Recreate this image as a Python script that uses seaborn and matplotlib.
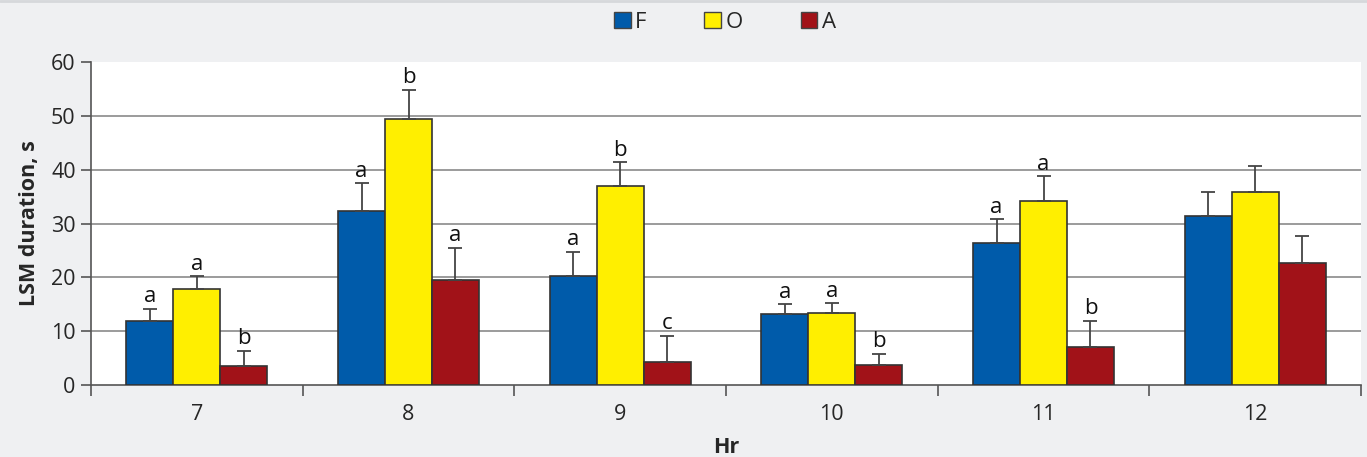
import matplotlib
matplotlib.use("Agg")
import matplotlib.pyplot as plt
import seaborn as sns
import pandas as pd
import numpy as np

# Hours and treatment groups
hours = ["7", "8", "9", "10", "11", "12"]
groups = ["F", "O", "A"]

# Mean LSM duration (s) per group
f_mean = [11.9, 32.3, 20.2, 13.2, 26.4, 31.4]
o_mean = [17.8, 49.4, 37.0, 13.4, 34.2, 35.9]
a_mean = [3.5, 19.5, 4.3, 3.7, 7.1, 22.7]

# Upper error (SE) per group
f_err = [2.2, 5.2, 4.5, 1.8, 4.4, 4.5]
o_err = [2.4, 5.4, 4.4, 1.8, 4.6, 4.8]
a_err = [2.8, 6.0, 4.8, 2.1, 4.8, 5.0]

# Significance letters
f_sig = ["a", "a", "a", "a", "a", ""]
o_sig = ["a", "b", "b", "a", "a", ""]
a_sig = ["b", "a", "c", "b", "b", ""]

means = {"F": f_mean, "O": o_mean, "A": a_mean}
errs = {"F": f_err, "O": o_err, "A": a_err}
sigs = {"F": f_sig, "O": o_sig, "A": a_sig}

df = pd.DataFrame(
    [(h, g, means[g][i]) for g in groups for i, h in enumerate(hours)],
    columns=["Hr", "group", "value"],
)

palette = {"F": "#005BAA", "O": "#FFEF00", "A": "#A11218"}
bg = "#EFF0F2"

sns.set_style("white")
plt.rcParams["font.family"] = ["Open Sans", "DejaVu Sans"]

fig = plt.figure(figsize=(13.67, 4.57), dpi=100, facecolor=bg)
ax = fig.add_axes([91 / 1367, 1 - 385 / 457, (1361 - 91) / 1367, (385 - 62) / 457])
ax.set_facecolor("white")

sns.barplot(
    data=df, x="Hr", y="value", hue="group", order=hours, hue_order=groups,
    palette=palette, width=0.666, gap=0, errorbar=None,
    edgecolor="#333333", linewidth=1.2, saturation=1, ax=ax, zorder=3,
)

# Upper error bars and letters on top of each bar
for g, cont in zip(groups, ax.containers):
    for i, bar in enumerate(cont.patches):
        x = bar.get_x() + bar.get_width() / 2
        top = means[g][i] + errs[g][i]
        ax.errorbar(x, means[g][i], yerr=[[0], [errs[g][i]]], fmt="none",
                    ecolor="#444444", elinewidth=1.3, capsize=5, capthick=1.3,
                    zorder=4)
        if sigs[g][i]:
            ax.text(x, top + 0.3, sigs[g][i], ha="center", va="bottom",
                    fontsize=16, color="#111111")

ax.set_ylim(0, 60)
ax.set_xlim(-0.5, len(hours) - 0.5)
ax.set_yticks(np.arange(0, 61, 10))

# Horizontal gridlines
for yv in range(10, 60, 10):
    ax.axhline(yv, color="#8A8A8A", lw=1.2, zorder=1)

for s in ["top", "right"]:
    ax.spines[s].set_visible(False)
for s in ["left", "bottom"]:
    ax.spines[s].set_color("#555555")
    ax.spines[s].set_linewidth(1.2)

ax.tick_params(axis="y", which="major", length=7, width=1.2, color="#555555",
               labelsize=15.5, pad=4, left=True)
ax.tick_params(axis="x", which="major", length=0, labelsize=15.5, pad=14)
ax.set_xticks(np.arange(-0.5, len(hours), 1.0), minor=True)
ax.tick_params(axis="x", which="minor", length=8, width=1.2, color="#555555",
               bottom=True)

ax.set_xlabel("Hr", fontsize=15.5, fontweight="bold", labelpad=8)
ax.set_ylabel("LSM duration, s", fontsize=15.5, fontweight="bold", labelpad=8)

leg = ax.legend(
    loc="center", bbox_to_anchor=(725 / 1367, 1 - 22 / 457),
    bbox_transform=fig.transFigure, ncol=3, frameon=False, fontsize=16,
    handlelength=0.75, handleheight=0.75, handletextpad=0.2, columnspacing=2.6,
)
for h in leg.legend_handles:
    h.set_linewidth(1.0)
    h.set_edgecolor("#444444")

# Thin rule along the top of the figure
fig.add_artist(plt.Line2D([0, 1], [0.997, 0.997], transform=fig.transFigure,
                          color="#D6D8DB", lw=2))

fig.savefig("out.png", dpi=100, facecolor=bg)
